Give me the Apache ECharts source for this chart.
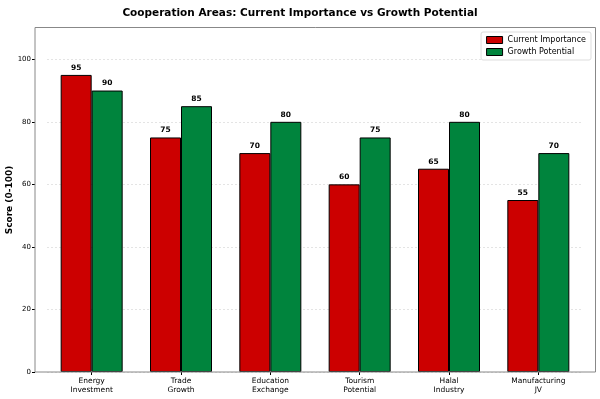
<!DOCTYPE html>
<html>
<head>
<meta charset="utf-8">
<script src="https://cdn.jsdelivr.net/npm/echarts@6/dist/echarts.min.js"></script>
<style>
  html, body { margin: 0; padding: 0; background: #fff; }
  #chart { width: 600px; height: 399px; }
</style>
</head>
<body>
<div id="chart"></div>
<script>
var categories = ['Energy\nInvestment', 'Trade\nGrowth', 'Education\nExchange', 'Tourism\nPotential', 'Halal\nIndustry', 'Manufacturing\nJV']
var currentImportance = [95, 75, 70, 60, 65, 55]
var growthPotential = [90, 85, 80, 75, 80, 70]
var yTicks = [0, 20, 40, 60, 80, 100]

var font = 'DejaVu Sans'
var chart = echarts.init(document.getElementById('chart'))

function barSeries (name, values, color) {
  return {
    name: name,
    type: 'bar',
    data: values,
    barWidth: 31,
    barGap: '0%',
    itemStyle: { color: color, borderColor: '#000', borderWidth: 1 },
    label: {
      show: true,
      position: 'top',
      distance: 3,
      fontFamily: font,
      fontWeight: 'bold',
      fontSize: 7.5,
      color: '#000'
    }
  }
}

var option = {
  animation: false,
  backgroundColor: '#fff',
  title: {
    text: 'Cooperation Areas: Current Importance vs Growth Potential',
    left: 'center',
    top: 3,
    textStyle: { fontFamily: font, fontWeight: 'bold', fontSize: 10.5, color: '#000' }
  },
  legend: {
    top: 32,
    right: 9,
    orient: 'vertical',
    icon: 'rect',
    itemWidth: 16,
    itemHeight: 7,
    itemGap: 4,
    padding: [4, 5, 4, 5],
    borderColor: '#ddd',
    borderWidth: 1,
    borderRadius: 2,
    backgroundColor: '#fff',
    itemStyle: { borderColor: '#000', borderWidth: 1 },
    textStyle: { fontFamily: font, fontSize: 8, color: '#000' },
    data: ['Current Importance', 'Growth Potential']
  },
  grid: { left: 47, right: 17, top: 28, bottom: 27, outerBoundsMode: 'none' },
  xAxis: {
    type: 'category',
    data: categories,
    axisLine: { show: false },
    axisTick: { show: true, alignWithLabel: true, length: 3, lineStyle: { color: '#000' } },
    axisLabel: { fontFamily: font, fontSize: 7.5, color: '#000', lineHeight: 9, margin: 5 }
  },
  yAxis: {
    type: 'value',
    min: 0,
    max: 110,
    interval: 20,
    offset: 12,
    name: 'Score (0-100)',
    nameLocation: 'middle',
    nameGap: 21,
    nameMoveOverlap: false,
    nameTextStyle: { fontFamily: font, fontWeight: 'bold', fontSize: 9, color: '#000' },
    axisLine: { show: false },
    axisTick: { show: true, length: 3, customValues: yTicks, lineStyle: { color: '#000' } },
    axisLabel: { fontFamily: font, fontSize: 7, color: '#000', margin: 4, customValues: yTicks },
    splitLine: { show: true, lineStyle: { color: '#ddd', type: [2, 2], width: 0.8 } }
  },
  graphic: [{
    type: 'rect',
    z: 100,
    silent: true,
    shape: { x: 35, y: 27.5, width: 560.5, height: 344.5 },
    style: { fill: null, stroke: '#888', lineWidth: 1 }
  }],
  series: [
    barSeries('Current Importance', currentImportance, '#cc0000'),
    barSeries('Growth Potential', growthPotential, '#00843d')
  ]
}

chart.setOption(option)
</script>
</body>
</html>
